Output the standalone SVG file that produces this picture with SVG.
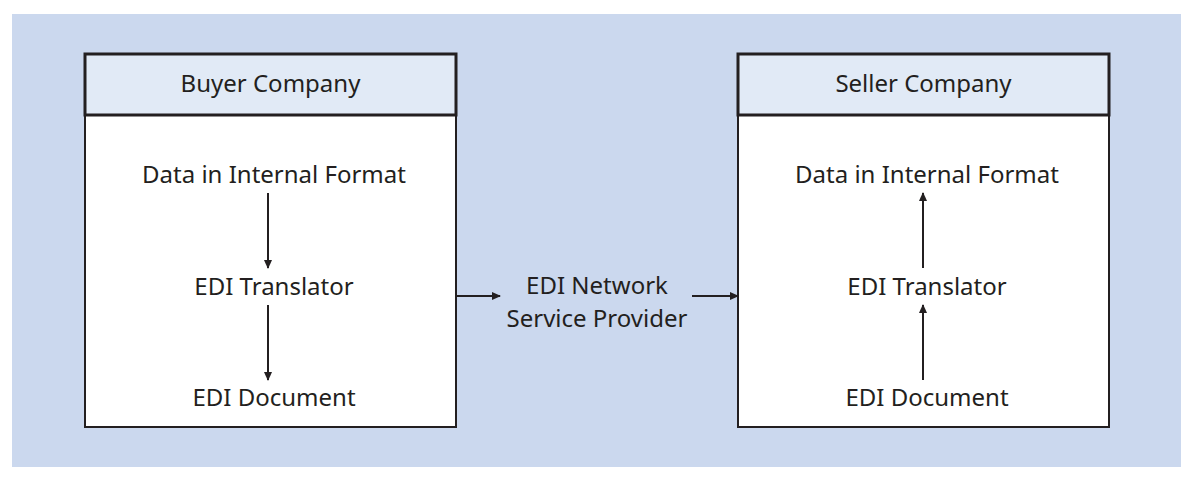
<svg xmlns="http://www.w3.org/2000/svg" width="1194" height="480" viewBox="0 0 1194 480">
<style>
text{font-family:"Noto Sans","Open Sans",sans-serif;font-size:24px;fill:#231f20;text-anchor:middle}
.body{fill:#fff;stroke:#231f20;stroke-width:2}
.head{fill:#e1eaf6;stroke:#231f20;stroke-width:3}
.c{stroke:#231f20;stroke-width:2;fill:none;marker-end:url(#a)}
</style>
<defs><marker id="a" markerWidth="10" markerHeight="10" refX="8" refY="5" orient="auto" markerUnits="userSpaceOnUse"><path d="M0,1 L9,5 L0,9 Z" fill="#231f20"/></marker></defs>
<rect x="12" y="14" width="1169" height="453" fill="#cbd8ee"/>
<g id="buyer">
<rect class="body" x="85" y="54" width="371" height="373"/>
<rect class="head" x="85" y="54" width="371" height="61"/>
<text x="270.5" y="92">Buyer Company</text>
</g>
<g id="buyer-data"><text x="274" y="183">Data in Internal Format</text></g>
<g id="buyer-translator"><text x="274" y="295">EDI Translator</text></g>
<g id="buyer-doc"><text x="274" y="406">EDI Document</text></g>
<g id="seller">
<rect class="body" x="738" y="54" width="371" height="373"/>
<rect class="head" x="738" y="54" width="371" height="61"/>
<text x="923.5" y="92">Seller Company</text>
</g>
<g id="seller-data"><text x="927" y="183">Data in Internal Format</text></g>
<g id="seller-translator"><text x="927" y="295">EDI Translator</text></g>
<g id="seller-doc"><text x="927" y="406">EDI Document</text></g>
<g id="provider"><text x="597" y="294">EDI Network</text><text x="597" y="327">Service Provider</text></g>
<g id="connectors">
<line class="c" x1="268" y1="193" x2="268" y2="268"/>
<line class="c" x1="268" y1="305" x2="268" y2="380"/>
<line class="c" x1="923" y1="380" x2="923" y2="305"/>
<line class="c" x1="923" y1="268" x2="923" y2="193"/>
<line class="c" x1="456" y1="296" x2="500" y2="296"/>
<line class="c" x1="692" y1="296" x2="738" y2="296"/>
</g>
</svg>
